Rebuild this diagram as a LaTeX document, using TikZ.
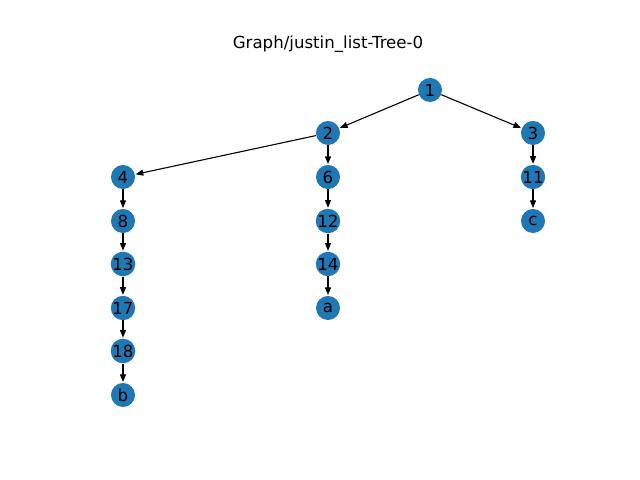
\documentclass[tikz,border=0pt]{standalone}
\usepackage{fontspec}
\setmainfont{DejaVu Sans}
\usepackage{xcolor}
\usepackage{tikz}
\usetikzlibrary{shapes,arrows,positioning,arrows.meta}
\definecolor{nxblue}{HTML}{1F77B4}
\tikzstyle{vertex} = [circle, fill=nxblue, inner sep=0pt, minimum size=0.24in, font=\fontsize{12}{14}\selectfont]
\tikzstyle{arrow} = [-{Triangle[length=5.5pt,width=4.3pt]}, line width=0.8pt, shorten >=0.5pt]

\begin{document}
\begin{tikzpicture}[x=0.01in, y=-0.01in]
    % canvas
    \useasboundingbox (0,0) rectangle (640,480);
    \node[font=\fontsize{12}{14}\selectfont] (title) at (328,44) {Graph/justin\_list-Tree-0};

    % Top levels
    \node[vertex] (n1) at (430,90) {1};
    \node[vertex] (n2) at (328,133) {2};
    \node[vertex] (n3) at (533,133) {3};

    % Left branch
    \node[vertex] (n4) at (123,177) {4};
    \node[vertex] (n8) at (123,221) {8};
    \node[vertex] (n13) at (123,264) {13};
    \node[vertex] (n17) at (123,308) {17};
    \node[vertex] (n18) at (123,351) {18};
    \node[vertex] (nb) at (123,395) {b};

    % Middle branch
    \node[vertex] (n6) at (328,177) {6};
    \node[vertex] (n12) at (328,221) {12};
    \node[vertex] (n14) at (328,264) {14};
    \node[vertex] (na) at (328,308) {a};

    % Right branch
    \node[vertex] (n11) at (533,177) {11};
    \node[vertex] (nc) at (533,221) {c};

    % Connections
    \draw[arrow] (n1) -- (n2);
    \draw[arrow] (n1) -- (n3);
    \draw[arrow] (n2) -- (n4);
    \draw[arrow] (n2) -- (n6);
    \draw[arrow] (n3) -- (n11);
    \draw[arrow] (n4) -- (n8);
    \draw[arrow] (n8) -- (n13);
    \draw[arrow] (n13) -- (n17);
    \draw[arrow] (n17) -- (n18);
    \draw[arrow] (n18) -- (nb);
    \draw[arrow] (n6) -- (n12);
    \draw[arrow] (n12) -- (n14);
    \draw[arrow] (n14) -- (na);
    \draw[arrow] (n11) -- (nc);
\end{tikzpicture}
\end{document}
